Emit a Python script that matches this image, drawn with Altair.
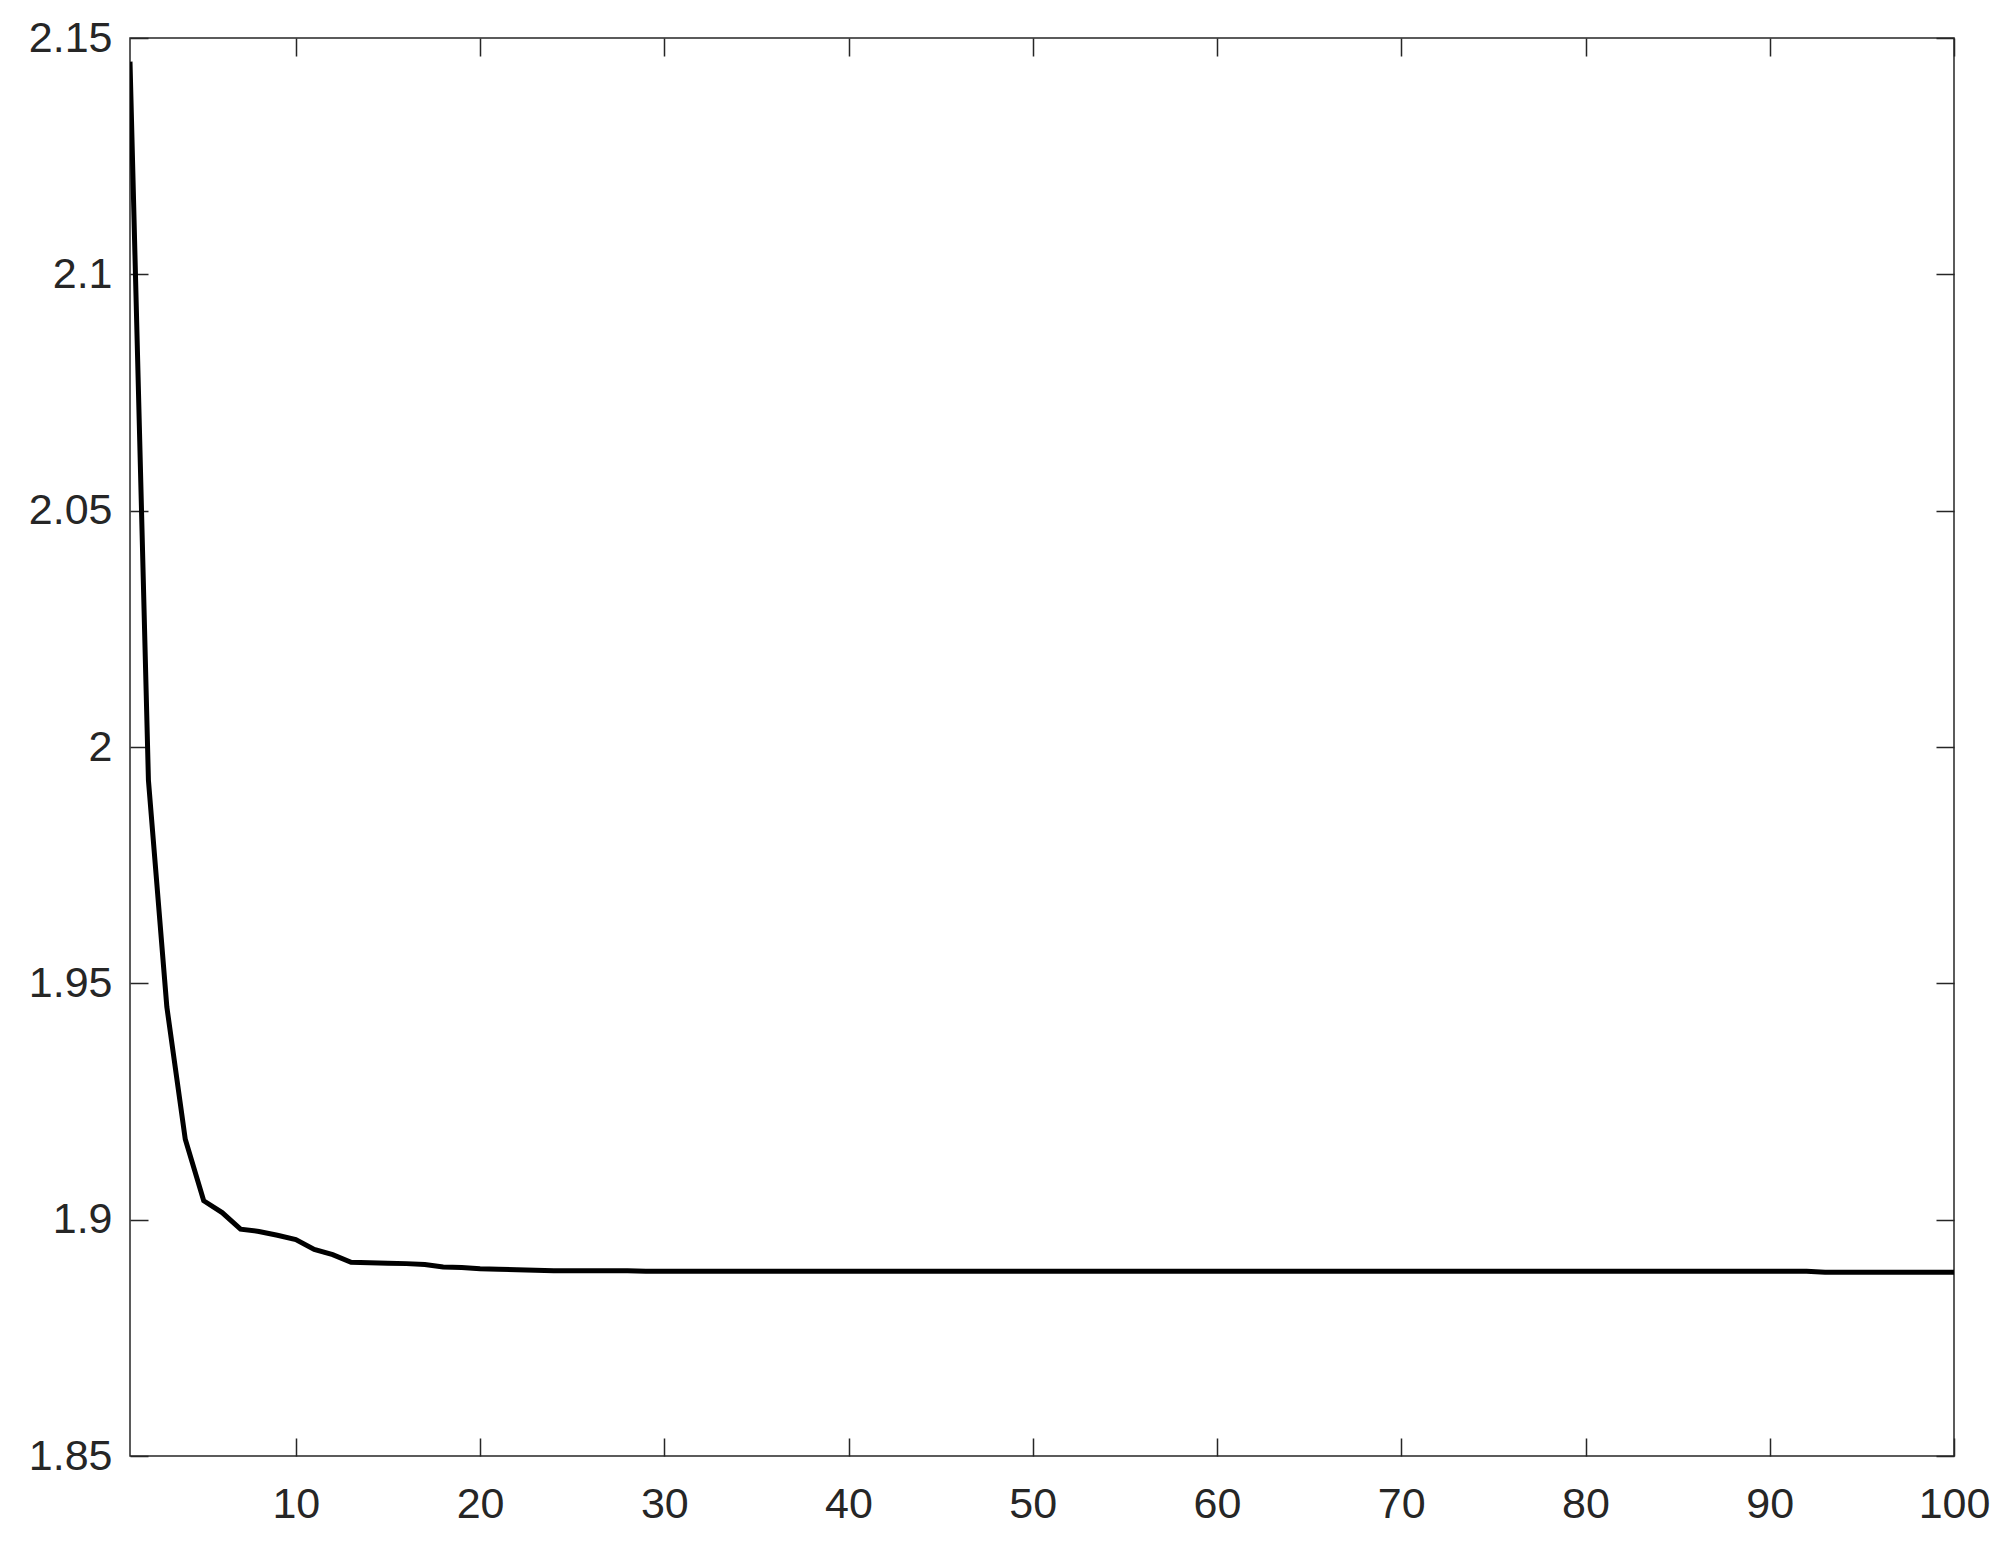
import altair as alt
import pandas as pd

iterations = list(range(1, 101))
values = [
    2.1450, 1.9930, 1.9450, 1.9170, 1.9040, 1.9015, 1.8980, 1.8975, 1.8967, 1.8958,
    1.8937, 1.8926, 1.8910, 1.8909, 1.8908, 1.8907, 1.8905, 1.8900, 1.8899, 1.8896,
    1.8895, 1.8894, 1.8893, 1.8892, 1.8892, 1.8892, 1.8892, 1.8892, 1.8891, 1.8891,
    1.8891, 1.8891, 1.8891, 1.8891, 1.8891, 1.8891, 1.8891, 1.8891, 1.8891, 1.8891,
    1.8891, 1.8891, 1.8891, 1.8891, 1.8891, 1.8891, 1.8891, 1.8891, 1.8891, 1.8891,
    1.8891, 1.8891, 1.8891, 1.8891, 1.8891, 1.8891, 1.8891, 1.8891, 1.8891, 1.8891,
    1.8891, 1.8891, 1.8891, 1.8891, 1.8891, 1.8891, 1.8891, 1.8891, 1.8891, 1.8891,
    1.8891, 1.8891, 1.8891, 1.8891, 1.8891, 1.8891, 1.8891, 1.8891, 1.8891, 1.8891,
    1.8891, 1.8891, 1.8891, 1.8891, 1.8891, 1.8891, 1.8891, 1.8891, 1.8891, 1.8891,
    1.8891, 1.8891, 1.8889, 1.8889, 1.8889, 1.8889, 1.8889, 1.8889, 1.8889, 1.8889,
]
x_ticks = [10, 20, 30, 40, 50, 60, 70, 80, 90, 100]
y_ticks = [1.85, 1.9, 1.95, 2.0, 2.05, 2.1, 2.15]

W, H = 1824, 1418
TICK = 18
AX = "#262626"
FONT = "Liberation Sans"

df = pd.DataFrame({"iter": iterations, "value": values})

chart = (
    alt.Chart(df)
    .mark_line(color="black", strokeWidth=5, clip=True)
    .encode(
        x=alt.X(
            "iter:Q",
            scale=alt.Scale(domain=[1, 100], nice=False, zero=False),
            axis=alt.Axis(
                values=x_ticks,
                title=None,
                ticks=False,
                tickSize=0,
                domain=False,
                labelPadding=27,
                labelFont=FONT,
                labelFontSize=43,
                labelColor=AX,
                labelFlush=False,
                grid=True,
                gridColor=AX,
                gridOpacity=1,
                gridWidth=1.5,
                gridDash=[TICK, H - 2 * TICK, TICK, 4000],
            ),
        ),
        y=alt.Y(
            "value:Q",
            scale=alt.Scale(domain=[1.85, 2.15], nice=False, zero=False),
            axis=alt.Axis(
                values=y_ticks,
                title=None,
                format="~g",
                ticks=False,
                tickSize=0,
                domain=False,
                labelPadding=18,
                labelFont=FONT,
                labelFontSize=43,
                labelColor=AX,
                labelFlush=False,
                grid=True,
                gridColor=AX,
                gridOpacity=1,
                gridWidth=1.5,
                gridDash=[TICK, W - 2 * TICK, TICK, 4000],
            ),
        ),
    )
    .properties(
        width=W,
        height=H,
        padding={"left": 122, "top": 30, "right": 40, "bottom": 80},
        autosize=alt.AutoSizeParams(type="none"),
        background="white",
    )
    .configure_view(stroke=AX, strokeWidth=1.5)
)

chart.save("out.html", embed_options={"renderer": "svg", "actions": False})
